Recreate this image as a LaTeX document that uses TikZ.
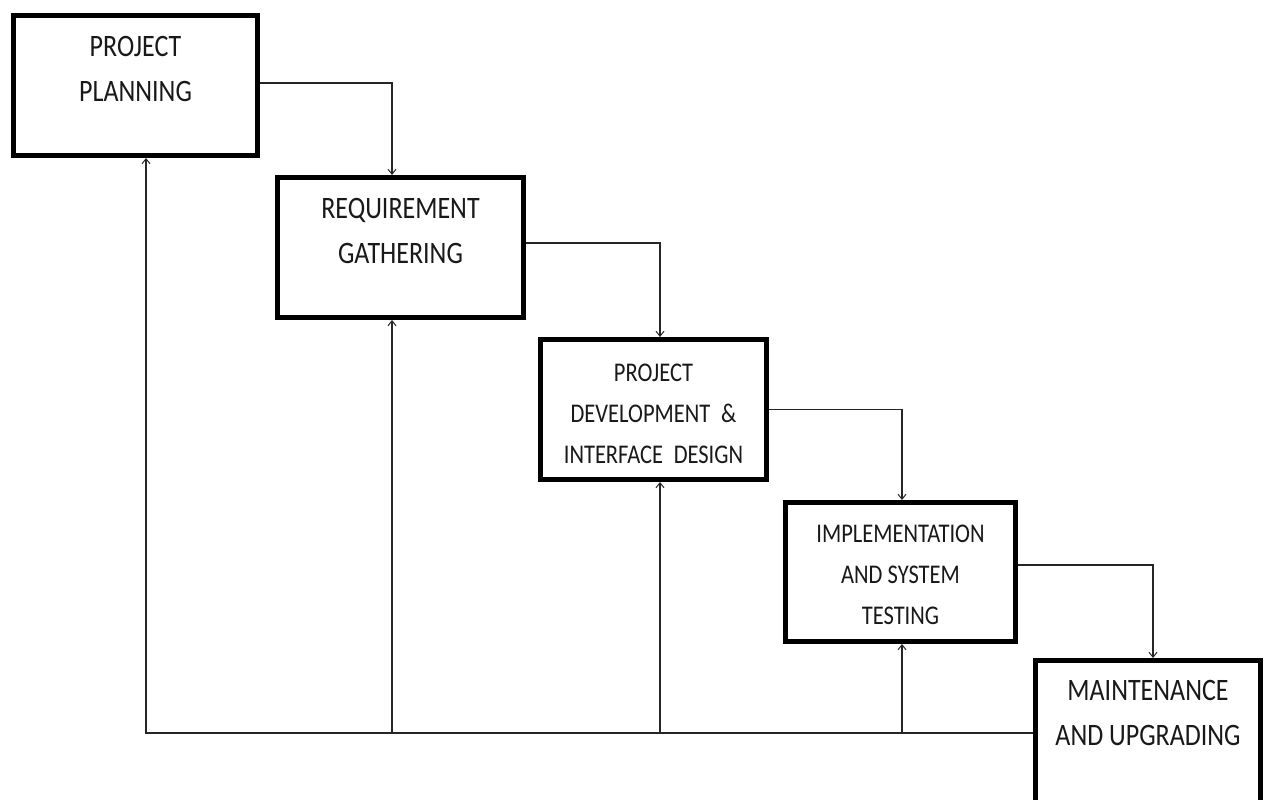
\documentclass[tikz,border=0pt]{standalone}
\usepackage{fontspec}
\setmainfont{Carlito}
\usetikzlibrary{arrows.meta}
\begin{document}
\begin{tikzpicture}[x=1pt,y=-1pt,
  stage/.style={draw=black, line width=5pt, fill=white, rectangle,
    minimum height=140pt, inner sep=0pt},
  lbl/.style={anchor=base, align=center, text=black!90, yscale=1.2, inner sep=0pt},
  big/.style={font=\fontsize{26}{36.7}\selectfont},
  small/.style={font=\fontsize{22.5}{33.8}\selectfont},
  flow/.style={line width=1.2pt, draw=black!85,
    -{Straight Barb[length=5pt,width=8pt,line width=1pt]}}
]
\clip (0,0) rectangle (1266,800);
\fill[white] (0,0) rectangle (1266,800);

% process stages
\node[stage, minimum width=244pt] (b1) at (135.5,85.5) {};
\node[stage, minimum width=246pt] (b2) at (400.5,247.5) {};
\node[stage, minimum width=226pt] (b3) at (653.5,409.5) {};
\node[stage, minimum width=230pt, minimum height=139pt] (b4) at (900.5,572) {};
\node[stage, minimum width=225pt, minimum height=145pt] (b5) at (1148,733) {};

% stage titles (placed by the baseline of their last line)
\node[lbl, big]   (t1) at (135.5,101) {PROJECT\\PLANNING};
\node[lbl, big]   (t2) at (400.5,263) {REQUIREMENT\\GATHERING};
\node[lbl, small] (t3) at (653.5,463) {PROJECT\\DEVELOPMENT\hspace{0.25em} \&\\INTERFACE\hspace{0.25em} DESIGN};
\node[lbl, small] (t4) at (900.5,624) {IMPLEMENTATION\\AND SYSTEM\\TESTING};
\node[lbl, big]   (t5) at (1148,745)  {MAINTENANCE\\AND UPGRADING};

% forward flow between stages
\coordinate (in2) at ([xshift=-8.5pt]b2.north);
\coordinate (in3) at ([xshift=6.5pt]b3.north);
\coordinate (in4) at ([xshift=1.5pt]b4.north);
\coordinate (in5) at ([xshift=5pt]b5.north);
\draw[flow] ([yshift=2.5pt]b1.east) -| (in2);
\draw[flow] ([yshift=4.5pt]b2.east) -| (in3);
\draw[flow] (b3.east) -| (in4);
\draw[flow] ([yshift=7pt]b4.east) -| (in5);

% feedback from maintenance to every earlier stage
\coordinate (back1) at ([xshift=10.5pt]b1.south);
\coordinate (back2) at ([xshift=-8.5pt]b2.south);
\coordinate (back3) at ([xshift=6.5pt]b3.south);
\coordinate (back4) at ([xshift=1.5pt]b4.south);
\coordinate (fb) at (b5.west);
\draw[flow] (fb) -| (back1);
\draw[flow] (fb -| back2) -- (back2);
\draw[flow] (fb -| back3) -- (back3);
\draw[flow] (fb -| back4) -- (back4);
\end{tikzpicture}
\end{document}
